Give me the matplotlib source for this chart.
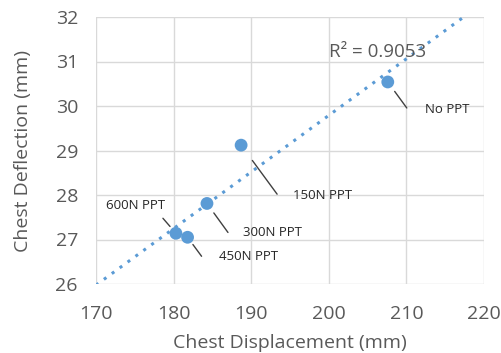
import numpy as np
import matplotlib
matplotlib.use("Agg")
import matplotlib.pyplot as plt

labels = ["No PPT", "150N PPT", "300N PPT", "450N PPT", "600N PPT"]
displacement = [207.6, 188.7, 184.3, 181.8, 180.3]
deflection = [30.54, 29.12, 27.81, 27.05, 27.14]
xticks = [170, 180, 190, 200, 210, 220]
yticks = [26, 27, 28, 29, 30, 31, 32]
r2_text = "R² = 0.9053"

plt.rcParams['font.family'] = ['Open Sans', 'DejaVu Sans']

fig = plt.figure(figsize=(5.01, 3.53), dpi=100)
ax = fig.add_axes([96/501, 1-284/353, (484-96)/501, (284-17)/353])

blue = "#5b9bd5"
grid = "#d9d9d9"
tc = "#595959"

# trend line
coef = np.polyfit(displacement, deflection, 1)
xs = np.linspace(170, 220, 200)
ax.plot(xs, np.polyval(coef, xs), linestyle=(0, (1, 2.2)), color=blue, lw=2.2, zorder=2)

ax.scatter(displacement, deflection, s=85, color=blue, zorder=3, edgecolors='none')

ax.set_xlim(170, 220)
ax.set_ylim(26, 32)
ax.set_xticks(xticks)
ax.set_yticks(yticks)
ax.grid(True, color=grid, lw=1)
ax.set_axisbelow(True)
for s in ax.spines.values():
    s.set_visible(False)
ax.tick_params(length=0, labelsize=14, colors=tc)
ax.tick_params(axis='x', pad=15)
ax.tick_params(axis='y', pad=13)
ax.set_xlabel("Chest Displacement (mm)", fontsize=14, color=tc, labelpad=8)
ax.set_ylabel("Chest Deflection (mm)", fontsize=14, color=tc, labelpad=17)

# label styling: leader line (far end offset px, near distance px), text offset px, ha
styles = {
    "No PPT":   ((19, -26), 11.7, (37, -28), 'left'),
    "150N PPT": ((36, -49), 19.0, (52, -50), 'left'),
    "300N PPT": ((21, -29), 11.7, (36, -29), 'left'),
    "450N PPT": ((14, -19), 9.0, (31, -19), 'left'),
    "600N PPT": ((-13, 15), 9.0, (-40, 28), 'center'),
}
for lab, x, y in zip(labels, displacement, deflection):
    far, near, toff, ha = styles[lab]
    ax.annotate('', xy=(x, y), xytext=far, textcoords='offset pixels',
                arrowprops=dict(arrowstyle='-', color="#404040", lw=1,
                                shrinkA=0, shrinkB=near * 0.72))
    ax.annotate(lab, xy=(x, y), xytext=toff, textcoords='offset pixels',
                fontsize=9.5, color="#262626", ha=ha, va='center')

ax.text(200.0, 31.21, r2_text, fontsize=13.5, color=tc, ha='left', va='center')

fig.savefig("out.png", dpi=100)
